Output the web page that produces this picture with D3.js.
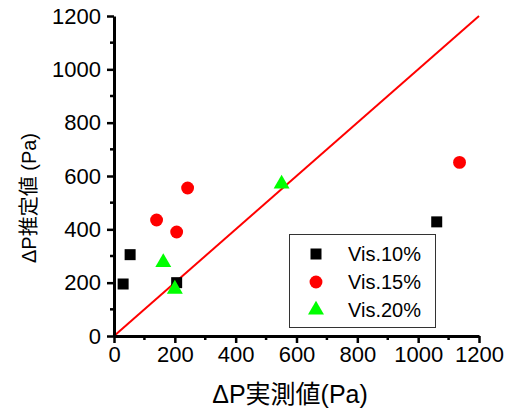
<!DOCTYPE html>
<html>
<head>
<meta charset="utf-8">
<script src="https://cdn.jsdelivr.net/npm/d3@7"></script>
<style>
  body { margin: 0; background: #fff; }
  text { font-family: "Liberation Sans", Arial, "Noto Sans CJK JP", sans-serif; }
</style>
</head>
<body>
<div id="chart"></div>
<script>
// measured vs estimated pressure drop
const vis10 = [[30, 195], [53, 305], [206, 200], [1061, 428]];
const vis15 = [[140, 435], [206, 390], [242, 555], [1136, 651]];
const vis20 = [[162, 276], [200, 176], [551, 570]];
const seriesNames = ["Vis.10%", "Vis.15%", "Vis.20%"];
const xTicks = [0, 200, 400, 600, 800, 1000, 1200];
const yTicks = [0, 200, 400, 600, 800, 1000, 1200];
const minorTicks = [100, 300, 500, 700, 900, 1100];

const width = 510, height = 412;
const margin = {top: 16, right: 31, bottom: 76, left: 114};

const svg = d3.select("#chart").append("svg")
    .attr("width", width)
    .attr("height", height);

const x = d3.scaleLinear().domain([0, 1200]).range([margin.left, width - margin.right]);
const y = d3.scaleLinear().domain([0, 1200]).range([height - margin.bottom, margin.top]);

// 1:1 line
svg.append("line")
    .attr("x1", x(0)).attr("y1", y(0))
    .attr("x2", x(1200)).attr("y2", y(1200))
    .attr("stroke", "#ff0000")
    .attr("stroke-width", 2);

// axes
const xAxis = svg.append("g")
    .attr("transform", "translate(0," + y(0) + ")")
    .call(d3.axisBottom(x).tickValues(xTicks).tickFormat(d3.format("d"))
        .tickSize(7).tickSizeOuter(0).tickPadding(3));
const yAxis = svg.append("g")
    .attr("transform", "translate(" + x(0) + ",0)")
    .call(d3.axisLeft(y).tickValues(yTicks).tickFormat(d3.format("d"))
        .tickSize(7).tickSizeOuter(0).tickPadding(6));

[xAxis, yAxis].forEach(function(a) {
    a.select(".domain").attr("stroke-width", 3);
    a.selectAll(".tick line").attr("stroke-width", 2.5);
    a.selectAll(".tick text").attr("font-size", 22).attr("fill", "#000");
});

// minor ticks
svg.append("g").selectAll("line").data(minorTicks).join("line")
    .attr("x1", d => x(d)).attr("x2", d => x(d))
    .attr("y1", y(0)).attr("y2", y(0) + 4)
    .attr("stroke", "#000").attr("stroke-width", 2.5);
svg.append("g").selectAll("line").data(minorTicks).join("line")
    .attr("y1", d => y(d)).attr("y2", d => y(d))
    .attr("x1", x(0)).attr("x2", x(0) - 4)
    .attr("stroke", "#000").attr("stroke-width", 2.5);

// axis titles
svg.append("text")
    .attr("x", 290).attr("y", 403)
    .attr("text-anchor", "middle")
    .attr("font-size", 25)
    .text("ΔP実測値(Pa)");
svg.append("text")
    .attr("transform", "translate(36,198) rotate(-90)")
    .attr("text-anchor", "middle")
    .attr("font-size", 20)
    .text("ΔP推定値 (Pa)");

const square = d3.symbol().type(d3.symbolSquare).size(121);
const circle = d3.symbol().type(d3.symbolCircle).size(130);
const triangle = d3.symbol().type(d3.symbolTriangle).size(110);

const series = [
    {data: vis10, sym: square, color: "#000000"},
    {data: vis15, sym: circle, color: "#ff0000"},
    {data: vis20, sym: triangle, color: "#00ff00"}
];

series.forEach(function(s) {
    svg.append("g").selectAll("path").data(s.data).join("path")
        .attr("d", s.sym)
        .attr("transform", d => "translate(" + x(d[0]) + "," + y(d[1]) + ")")
        .attr("fill", s.color);
});

// legend
const legend = svg.append("g");
legend.append("rect")
    .attr("x", 289.5).attr("y", 234.5)
    .attr("width", 146).attr("height", 93)
    .attr("fill", "#fff")
    .attr("stroke", "#333").attr("stroke-width", 1);
series.forEach(function(s, i) {
    const cy = 254 + i * 28;
    legend.append("path")
        .attr("d", s.sym)
        .attr("transform", "translate(316," + cy + ")")
        .attr("fill", s.color);
    legend.append("text")
        .attr("x", 348).attr("y", cy + 7)
        .attr("font-size", 20)
        .text(seriesNames[i]);
});
</script>
</body>
</html>
